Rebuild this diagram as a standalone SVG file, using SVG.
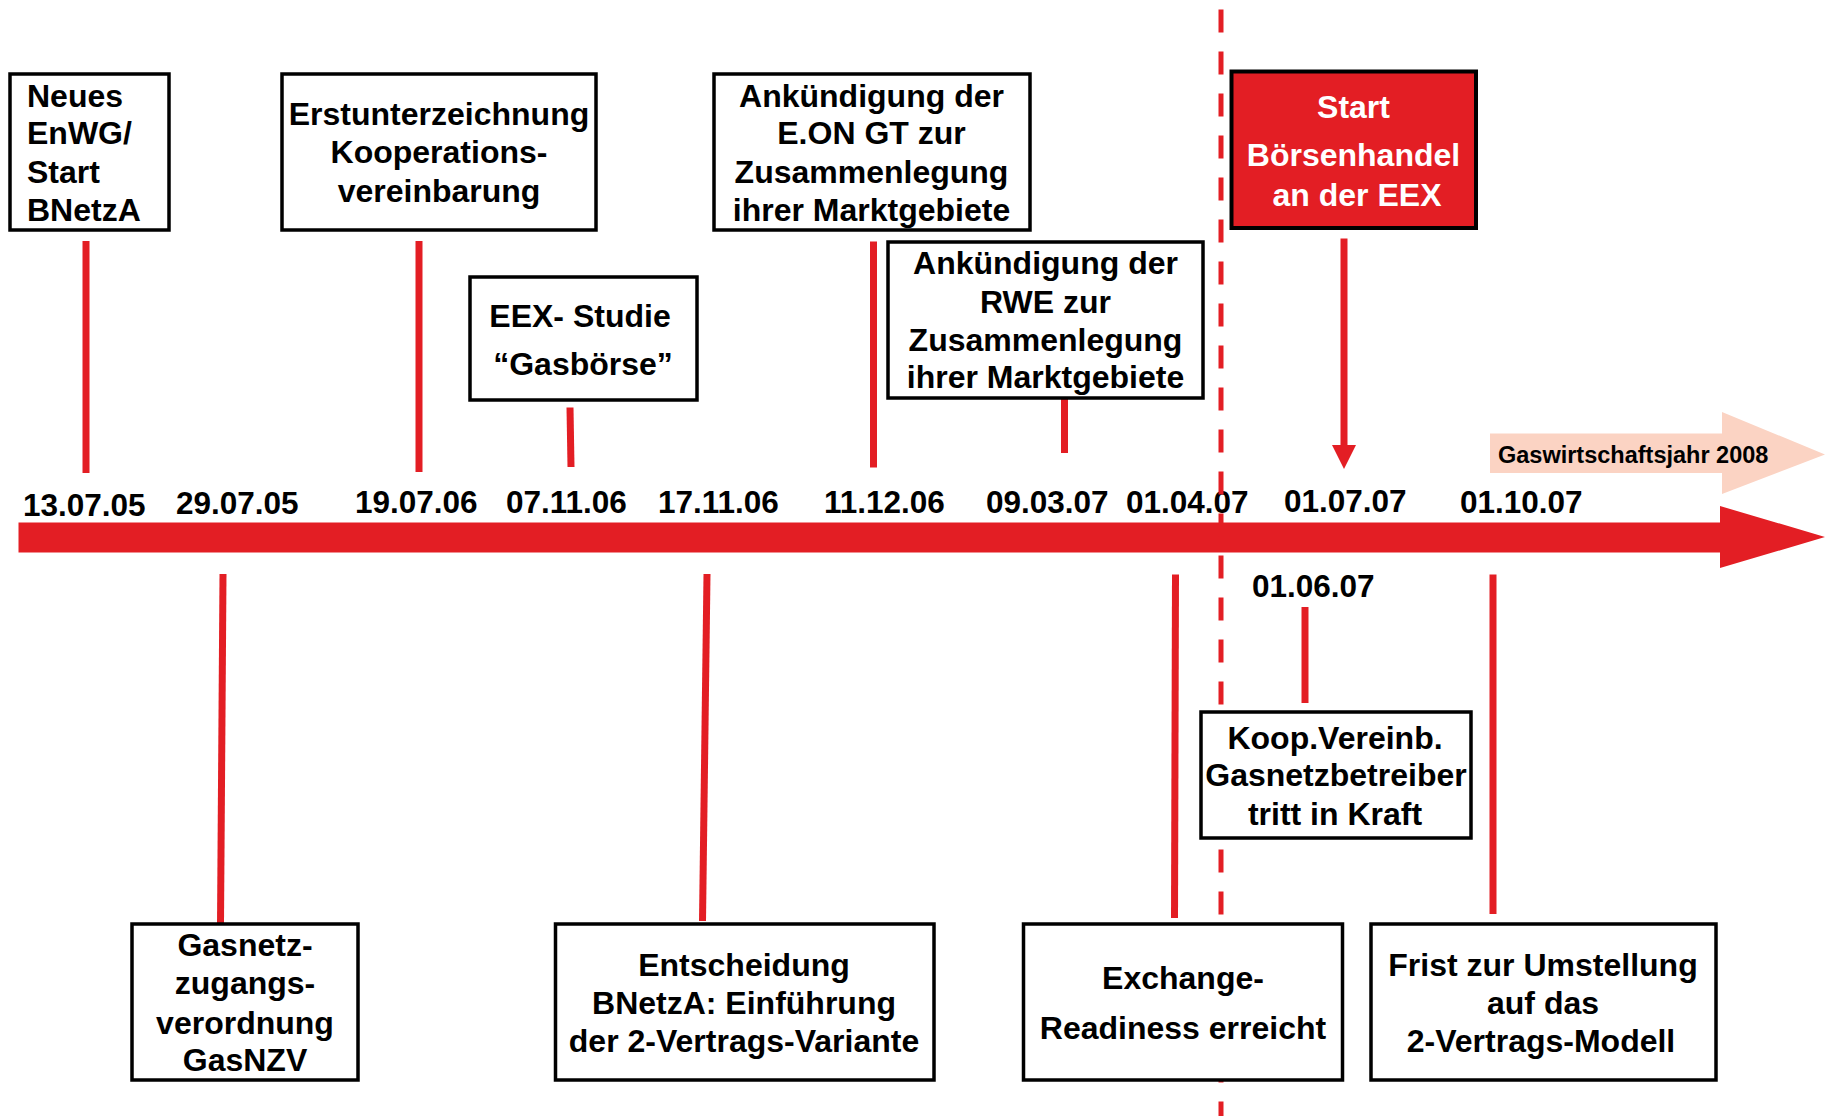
<svg xmlns="http://www.w3.org/2000/svg" width="1825" height="1116" viewBox="0 0 1825 1116">
<defs>
<style>
.box{fill:#fff;stroke:#000;stroke-width:3.5}
.t{font-family:"Liberation Sans",Arial,sans-serif;font-weight:bold;font-size:32px;fill:#000}
.d{font-size:31.5px}
.c{text-anchor:middle}
.w{fill:#fff}
.ln{stroke:#E31E24;stroke-width:7;fill:none}
.dash{stroke:#E31E24;stroke-width:5;stroke-dasharray:23 19;fill:none}
</style>
</defs>
<rect width="1825" height="1116" fill="#fff"/>

<g id="timeline">
<path d="M1490,433.5 H1722 V412 L1825,454.5 L1722,494 V473 H1490 Z" fill="#FBD3C3"/>
<text class="t" x="1498" y="462.5" style="font-size:23.5px">Gaswirtschaftsjahr 2008</text>
<path d="M18.5,522.5 H1720 V506 L1825,537 L1720,568 V552.5 H18.5 Z" fill="#E31E24"/>
</g>

<g id="dates" class="t d">
<text x="23" y="516">13.07.05</text>
<text x="176" y="514">29.07.05</text>
<text x="355" y="513">19.07.06</text>
<text x="506" y="512.5">07.11.06</text>
<text x="658" y="512.5">17.11.06</text>
<text x="824" y="512.5">11.12.06</text>
<text x="986" y="512.5">09.03.07</text>
<text x="1126" y="512.5">01.04.07</text>
<text x="1284" y="512">01.07.07</text>
<text x="1460" y="513">01.10.07</text>
<text x="1252" y="597">01.06.07</text>
</g>

<g id="connectors">
<line class="ln" x1="86" y1="241" x2="86" y2="473"/>
<line class="ln" x1="419" y1="241" x2="419" y2="472"/>
<line class="ln" x1="570" y1="407.5" x2="571" y2="467"/>
<line class="ln" x1="873.5" y1="241.5" x2="873.5" y2="467.5"/>
<line class="ln" x1="1064.5" y1="393" x2="1064.5" y2="453"/>
<line class="ln" x1="1344" y1="238.5" x2="1344" y2="448"/>
<polygon points="1332,445 1356,445 1344,469" fill="#E31E24"/>
<line class="ln" x1="223" y1="574" x2="220.5" y2="924"/>
<line class="ln" x1="707" y1="574" x2="702.5" y2="921"/>
<line class="ln" x1="1175.5" y1="574.5" x2="1174.5" y2="918"/>
<line class="ln" x1="1305" y1="607" x2="1305" y2="703"/>
<line class="ln" x1="1493" y1="574.5" x2="1493" y2="914"/>
<line class="dash" x1="1221" y1="9.5" x2="1221" y2="1116"/>
</g>

<g id="n-enwg">
<rect class="box" x="10" y="74" width="159" height="156"/>
<text class="t" x="27" y="106.7">Neues</text>
<text class="t" x="27" y="144.3">EnWG/</text>
<text class="t" x="27" y="182.7">Start</text>
<text class="t" x="27" y="221">BNetzA</text>
</g>

<g id="n-erst">
<rect class="box" x="282" y="74" width="314" height="156"/>
<text class="t c" x="439" y="125">Erstunterzeichnung</text>
<text class="t c" x="439" y="163.3">Kooperations-</text>
<text class="t c" x="439" y="202">vereinbarung</text>
</g>

<g id="n-eex">
<rect class="box" x="470" y="277" width="227" height="123"/>
<text class="t c" x="580" y="326.7">EEX- Studie</text>
<text class="t c" x="583" y="375">“Gasbörse”</text>
</g>

<g id="n-eon">
<rect class="box" x="714" y="74" width="316" height="156"/>
<text class="t c" x="871.5" y="106.7">Ankündigung der</text>
<text class="t c" x="871.5" y="144">E.ON GT zur</text>
<text class="t c" x="871.5" y="182.7">Zusammenlegung</text>
<text class="t c" x="871.5" y="221">ihrer Marktgebiete</text>
</g>

<g id="n-rwe">
<rect class="box" x="888" y="242" width="315" height="156"/>
<text class="t c" x="1045.5" y="274">Ankündigung der</text>
<text class="t c" x="1045.5" y="312.7">RWE zur</text>
<text class="t c" x="1045.5" y="351">Zusammenlegung</text>
<text class="t c" x="1045.5" y="388.3">ihrer Marktgebiete</text>
</g>

<g id="n-start">
<rect x="1231.5" y="71.5" width="244.5" height="156.5" fill="#E31E24" stroke="#000" stroke-width="4"/>
<text class="t c w" x="1353.5" y="117.5">Start</text>
<text class="t c w" x="1353.5" y="166">Börsenhandel</text>
<text class="t c w" x="1357" y="205.6">an der EEX</text>
</g>

<g id="n-gasnzv">
<rect class="box" x="132" y="924" width="226" height="156"/>
<text class="t c" x="245" y="955.5">Gasnetz-</text>
<text class="t c" x="245" y="994.4">zugangs-</text>
<text class="t c" x="245" y="1033.7">verordnung</text>
<text class="t c" x="245" y="1070.5">GasNZV</text>
</g>

<g id="n-entscheidung">
<rect class="box" x="555.5" y="924" width="378.5" height="156"/>
<text class="t c" x="744" y="975.7">Entscheidung</text>
<text class="t c" x="744" y="1014">BNetzA: Einführung</text>
<text class="t c" x="744" y="1052">der 2-Vertrags-Variante</text>
</g>

<g id="n-exchange">
<rect class="box" x="1023.5" y="924" width="319" height="156"/>
<text class="t c" x="1183" y="989">Exchange-</text>
<text class="t c" x="1183" y="1039">Readiness erreicht</text>
</g>

<g id="n-koop">
<rect class="box" x="1201" y="712" width="270" height="126"/>
<text class="t c" x="1335" y="749">Koop.Vereinb.</text>
<text class="t c" x="1336" y="786.3">Gasnetzbetreiber</text>
<text class="t c" x="1335" y="824.8">tritt in Kraft</text>
</g>

<g id="n-frist">
<rect class="box" x="1371" y="924" width="345" height="156"/>
<text class="t c" x="1543" y="975.7">Frist zur Umstellung</text>
<text class="t c" x="1543" y="1013.5">auf das</text>
<text class="t c" x="1541" y="1052">2-Vertrags-Modell</text>
</g>
</svg>
